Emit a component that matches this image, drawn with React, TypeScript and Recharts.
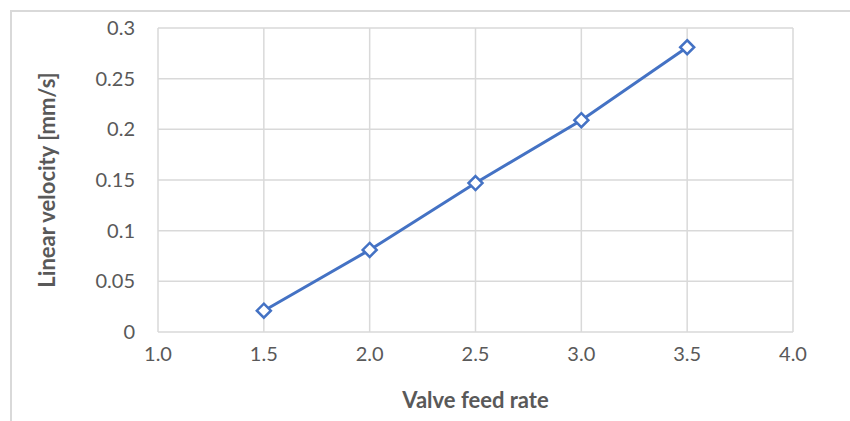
import React from "react";
import { CartesianGrid, Label, Line, LineChart, XAxis, YAxis } from "recharts";

const feedRates = [1.5, 2.0, 2.5, 3.0, 3.5];
const velocities = [0.021, 0.081, 0.147, 0.209, 0.281];
const xTicks = [1.0, 1.5, 2.0, 2.5, 3.0, 3.5, 4.0];
const yTicks = [0, 0.05, 0.1, 0.15, 0.2, 0.25, 0.3];

const data = feedRates.map((rate, i) => ({ rate, velocity: velocities[i] }));

const FONT = "Lato, 'Open Sans', sans-serif";
const BLUE = "#4472C4";
const GRID = "#d9d9d9";
const TEXT = "#595959";

const Diamond = (props: any) => {
  const { cx, cy } = props;
  const r = 7;
  return (
    <polygon
      points={`${cx},${cy - r} ${cx + r},${cy} ${cx},${cy + r} ${cx - r},${cy}`}
      fill="#fff"
      stroke={BLUE}
      strokeWidth={2.5}
    />
  );
};

const YTitle = (props: any) => {
  const { viewBox } = props;
  const x = viewBox.x + 36;
  const y = viewBox.y + viewBox.height / 2;
  return (
    <text
      x={x}
      y={y}
      transform={`rotate(-90, ${x}, ${y})`}
      textAnchor="middle"
      dominantBaseline="central"
      fontFamily={FONT}
      fontWeight="bold"
      fontSize={22}
      fill={TEXT}
    >
      Linear velocity [mm/s]
    </text>
  );
};

export default function App() {
  return (
    <div style={{ position: "absolute", left: 0, top: 0, width: 850, height: 421, background: "#fff" }}>
      <div
        style={{
          position: "absolute",
          left: 10,
          top: 10,
          width: 850,
          height: 430,
          borderLeft: `2px solid ${GRID}`,
          borderTop: `2px solid ${GRID}`,
        }}
      />
      <div style={{ position: "absolute", left: 0, top: 0 }}>
        <LineChart
          width={850}
          height={421}
          data={data}
          margin={{ top: 28, right: 57, left: 10, bottom: 9 }}
        >
          <CartesianGrid stroke={GRID} strokeWidth={1.5} />
          <XAxis
            dataKey="rate"
            type="number"
            domain={[1, 4]}
            ticks={xTicks}
            tickFormatter={(v: number) => v.toFixed(1)}
            axisLine={false}
            tickLine={false}
            tickSize={0}
            tickMargin={15}
            height={80}
            tick={{ fill: TEXT, fontSize: 20, fontFamily: FONT }}
          >
            <Label
              value="Valve feed rate"
              position="insideBottom"
              offset={4}
              style={{ fill: TEXT, fontSize: 22, fontWeight: "bold", fontFamily: FONT }}
            />
          </XAxis>
          <YAxis
            type="number"
            domain={[0, 0.3]}
            ticks={yTicks}
            axisLine={false}
            tickLine={false}
            tickSize={0}
            tickMargin={23}
            width={148}
            tick={{ fill: TEXT, fontSize: 20, fontFamily: FONT }}
          >
            <Label content={<YTitle />} />
          </YAxis>
          <Line
            dataKey="velocity"
            stroke={BLUE}
            strokeWidth={3}
            dot={<Diamond />}
            activeDot={false}
            isAnimationActive={false}
          />
        </LineChart>
      </div>
    </div>
  );
}
